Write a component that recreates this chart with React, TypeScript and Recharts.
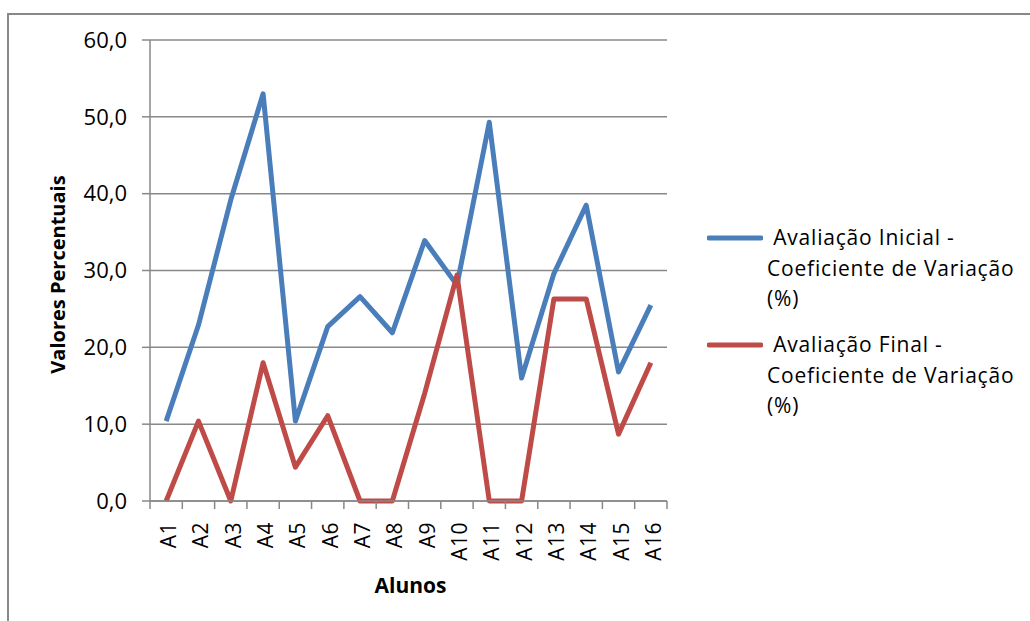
import React from 'react';
import { LineChart, Line, XAxis, YAxis, CartesianGrid, Legend } from 'recharts';

const FONT = '"Open Sans", "DejaVu Sans", sans-serif';

const categories = ['A1', 'A2', 'A3', 'A4', 'A5', 'A6', 'A7', 'A8', 'A9', 'A10', 'A11', 'A12', 'A13', 'A14', 'A15', 'A16'];
const inicial = [10.4, 22.9, 39.2, 53.0, 10.4, 22.7, 26.6, 21.9, 33.9, 28.1, 49.3, 16.0, 29.6, 38.5, 16.8, 25.5];
const finalVals = [0, 10.4, 0, 18.0, 4.4, 11.1, 0, 0, 14.0, 29.4, 0, 0, 26.3, 26.3, 8.7, 18.0];
const yTicks = [0, 10, 20, 30, 40, 50, 60];
const seriesKeys = ['inicial', 'final'];
const seriesNames = [
  'Avaliação Inicial - Coeficiente de Variação (%)',
  'Avaliação Final - Coeficiente de Variação (%)',
];
const legendLines = [
  [' Avaliação Inicial -', 'Coeficiente de Variação', '(%)'],
  [' Avaliação Final -', 'Coeficiente de Variação', '(%)'],
];
const colors = ['#4A7EBB', '#BE4B48'];
const xTitle = 'Alunos';
const yTitle = 'Valores Percentuais';

const data = categories.map((c, i) => ({
  pos: i + 0.5,
  name: c,
  inicial: inicial[i],
  final: finalVals[i],
}));
const xTicks = Array.from({ length: categories.length * 2 + 1 }, (_, k) => k / 2);

const fmt = (v: number) => v.toFixed(1).replace('.', ',');

const XTick = (props: any) => {
  const { x, y, payload } = props;
  const v = payload.value as number;
  if (Number.isInteger(v)) {
    return <line x1={x} y1={y} x2={x} y2={y + 8} stroke="#888888" strokeWidth={1.5} />;
  }
  const label = categories[Math.floor(v)];
  const ty = y + 21;
  return (
    <text
      x={x}
      y={ty}
      transform={`rotate(-90, ${x}, ${ty})`}
      textAnchor="end"
      dy={10}
      fill="#000"
      fontSize={21}
      fontFamily={FONT}
      letterSpacing={0.5}
    >
      {label}
    </text>
  );
};

const YLabel = (props: any) => {
  const vb = props.viewBox || {};
  const cx = 57;
  const cy = vb.y + vb.height / 2 + 4;
  return (
    <text
      x={cx}
      y={cy}
      transform={`rotate(-90, ${cx}, ${cy})`}
      textAnchor="middle"
      dominantBaseline="central"
      fontWeight="bold"
      fontSize={20}
      fontFamily={FONT}
      fill="#000"
    >
      {yTitle}
    </text>
  );
};

const XLabel = (props: any) => {
  const vb = props.viewBox || {};
  return (
    <text
      x={vb.x + vb.width / 2 + 2}
      y={vb.y + 92}
      textAnchor="middle"
      fontWeight="bold"
      fontSize={21}
      fontFamily={FONT}
      fill="#000"
    >
      {xTitle}
    </text>
  );
};

const LegendContent = (props: any) => {
  const payload = props.payload || [];
  return (
    <div style={{ fontFamily: FONT, fontSize: 21, letterSpacing: 0.8, color: '#000' }}>
      {seriesKeys.map((key, i) => {
        const entry = payload.find((p: any) => p.dataKey === key);
        const color = entry ? entry.color : colors[i];
        return (
          <div key={key} style={{ position: 'relative', paddingLeft: 60, marginBottom: 15.5 }}>
            <svg width={56} height={6} style={{ position: 'absolute', left: 0, top: 12.5 }}>
              <line x1={2} y1={3} x2={54} y2={3} stroke={color} strokeWidth={5} strokeLinecap="round" />
            </svg>
            {legendLines[i].map((t, k) => (
              <div key={k} style={{ lineHeight: '30.5px', whiteSpace: 'pre' }}>
                {t}
              </div>
            ))}
          </div>
        );
      })}
    </div>
  );
};

export default function App() {
  return (
    <div
      style={{
        position: 'absolute',
        left: 0,
        top: 0,
        width: 1030,
        height: 621,
        overflow: 'hidden',
        background: '#fff',
      }}
    >
      <div
        style={{
          position: 'absolute',
          left: 7,
          top: 13,
          width: 1100,
          height: 700,
          border: '2px solid #888888',
        }}
      />
      <div style={{ position: 'absolute', left: 0, top: 0 }}>
        <LineChart width={1030} height={621} data={data} margin={{ top: 40, right: 363, bottom: 0, left: 0 }}>
          <CartesianGrid vertical={false} stroke="#888888" strokeWidth={1.5} />
          <XAxis
            dataKey="pos"
            type="number"
            domain={[0, categories.length]}
            ticks={xTicks}
            interval={0}
            tickLine={false}
            tickSize={0}
            tickMargin={0}
            tick={<XTick />}
            height={120}
            axisLine={{ stroke: '#888888', strokeWidth: 1.5 }}
            label={{ content: <XLabel /> }}
          />
          <YAxis
            width={150}
            domain={[0, 60]}
            ticks={yTicks}
            interval={0}
            tickFormatter={fmt}
            tickSize={8}
            tickMargin={15}
            tickLine={{ stroke: '#888888', strokeWidth: 1.5 }}
            axisLine={{ stroke: '#888888', strokeWidth: 1.5 }}
            tick={{ fill: '#000', fontSize: 22, fontFamily: FONT }}
            label={{ content: <YLabel /> }}
          />
          <Legend
            layout="vertical"
            align="center"
            verticalAlign="middle"
            content={<LegendContent />}
            wrapperStyle={{ left: 707, top: 222, width: 323 }}
          />
          <Line
            type="linear"
            dataKey="inicial"
            name={seriesNames[0]}
            stroke={colors[0]}
            strokeWidth={5}
            strokeLinejoin="round"
            dot={false}
            isAnimationActive={false}
          />
          <Line
            type="linear"
            dataKey="final"
            name={seriesNames[1]}
            stroke={colors[1]}
            strokeWidth={5}
            strokeLinejoin="round"
            dot={false}
            isAnimationActive={false}
          />
        </LineChart>
      </div>
    </div>
  );
}
